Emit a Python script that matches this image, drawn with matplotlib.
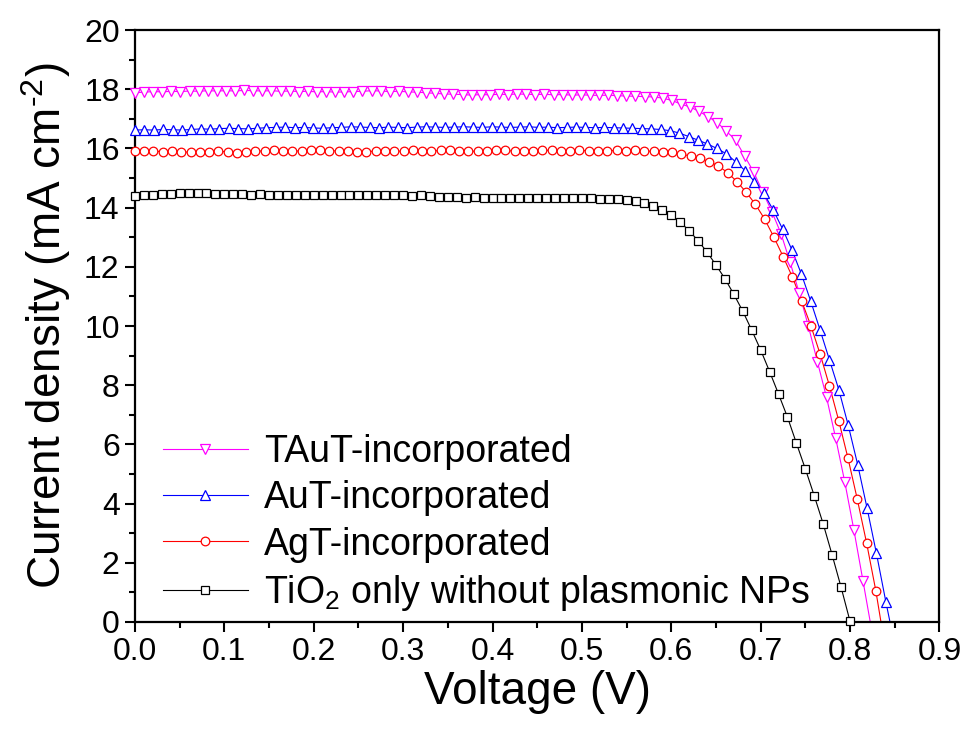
import numpy as np
import matplotlib
matplotlib.use("Agg")
import matplotlib.pyplot as plt
from matplotlib.lines import Line2D
from matplotlib.ticker import MultipleLocator, FormatStrFormatter

plt.rcParams["font.family"] = ["Liberation Sans", "DejaVu Sans"]
plt.rcParams["mathtext.fontset"] = "custom"
plt.rcParams["mathtext.rm"] = "Liberation Sans"
plt.rcParams["mathtext.it"] = "Liberation Sans:italic"
plt.rcParams["mathtext.default"] = "regular"

# voltage sweep steps (V) for each cell
step_taut = 0.01018
step_aut = 0.0105
step_agt = 0.01036
step_tio2 = 0.0100

# J-V data, current density in mA cm^-2
j_taut = [
    17.88, 17.90, 17.92, 17.91, 17.93, 17.92, 17.94, 17.93, 17.95, 17.94,
    17.95, 17.94, 17.96, 17.95, 17.94, 17.95, 17.93, 17.94, 17.92, 17.93,
    17.91, 17.92, 17.90, 17.91, 17.92, 17.93, 17.95, 17.94, 17.92, 17.93,
    17.91, 17.90, 17.88, 17.86, 17.84, 17.83, 17.82, 17.80, 17.82, 17.81,
    17.83, 17.82, 17.84, 17.83, 17.82, 17.83, 17.81, 17.82, 17.80, 17.81,
    17.80, 17.79, 17.80, 17.78, 17.77, 17.76, 17.75, 17.74, 17.70, 17.62,
    17.50, 17.40, 17.25, 17.07, 16.87, 16.58, 16.28, 15.74, 15.20, 14.52,
    13.86, 13.12, 12.15, 11.12, 10.00, 8.79, 7.59, 6.22, 4.74, 3.12,
    1.40, -0.34,
]
j_aut = [
    16.62, 16.63, 16.62, 16.64, 16.63, 16.62, 16.64, 16.66, 16.65, 16.67,
    16.68, 16.67, 16.66, 16.68, 16.70, 16.71, 16.72, 16.70, 16.71, 16.69,
    16.68, 16.70, 16.71, 16.73, 16.72, 16.71, 16.70, 16.72, 16.71, 16.70,
    16.72, 16.73, 16.72, 16.71, 16.72, 16.73, 16.72, 16.71, 16.73, 16.72,
    16.71, 16.72, 16.73, 16.71, 16.72, 16.70, 16.71, 16.72, 16.71, 16.70,
    16.71, 16.70, 16.69, 16.68, 16.67, 16.66, 16.64, 16.60, 16.52, 16.40,
    16.28, 16.15, 16.00, 15.82, 15.55, 15.25, 14.88, 14.48, 13.92, 13.28,
    12.57, 11.76, 10.84, 9.86, 8.85, 7.84, 6.64, 5.32, 3.85, 2.32,
    0.69, -0.86,
]
j_agt = [
    15.92, 15.90, 15.91, 15.89, 15.90, 15.88, 15.87, 15.89, 15.88, 15.90,
    15.89, 15.86, 15.88, 15.90, 15.92, 15.93, 15.91, 15.90, 15.92, 15.94,
    15.93, 15.91, 15.92, 15.90, 15.88, 15.89, 15.91, 15.92, 15.90, 15.91,
    15.93, 15.92, 15.91, 15.93, 15.94, 15.92, 15.91, 15.90, 15.92, 15.94,
    15.93, 15.91, 15.90, 15.92, 15.93, 15.94, 15.92, 15.91, 15.93, 15.92,
    15.91, 15.92, 15.93, 15.92, 15.93, 15.91, 15.90, 15.89, 15.87, 15.81,
    15.74, 15.66, 15.55, 15.41, 15.18, 14.88, 14.52, 14.11, 13.61, 13.00,
    12.34, 11.65, 10.84, 10.00, 9.04, 7.97, 6.80, 5.53, 4.15, 2.68,
    1.06, -0.84,
]
j_tio2 = [
    14.40, 14.42, 14.43, 14.45, 14.47, 14.49, 14.50, 14.50, 14.48, 14.47,
    14.46, 14.45, 14.46, 14.44, 14.45, 14.43, 14.44, 14.42, 14.43, 14.42,
    14.44, 14.43, 14.42, 14.43, 14.41, 14.42, 14.42, 14.43, 14.42, 14.41,
    14.42, 14.40, 14.41, 14.38, 14.37, 14.36, 14.35, 14.34, 14.35, 14.33,
    14.34, 14.33, 14.32, 14.34, 14.32, 14.33, 14.34, 14.33, 14.32, 14.31,
    14.32, 14.31, 14.30, 14.29, 14.28, 14.26, 14.22, 14.14, 14.05, 13.92,
    13.75, 13.51, 13.22, 12.88, 12.50, 12.06, 11.60, 11.07, 10.50, 9.86,
    9.19, 8.46, 7.70, 6.92, 6.04, 5.17, 4.26, 3.31, 2.26, 1.17,
    0.02,
]

labels = [
    "TAuT-incorporated",
    "AuT-incorporated",
    "AgT-incorporated",
    "TiO$_2$ only without plasmonic NPs",
]

series = [
    (step_taut, j_taut, "#FF00FF", "v", 6.8),
    (step_aut, j_aut, "#0000FF", "^", 6.8),
    (step_agt, j_agt, "#FF0000", "o", 6.2),
    (step_tio2, j_tio2, "#000000", "s", 5.2),
]

fig = plt.figure(figsize=(9.71, 7.34), dpi=100)
ax = fig.add_axes([0.139, 0.1526, 0.8285, 0.8065])

handles = []
for (step, j, color, marker, ms), lab in zip(series, labels):
    j = np.array(j)
    v = np.arange(len(j)) * step
    # the line is clipped at J = 0, the symbols sit on top of the axis
    ax.plot(v, j, "-", color=color, lw=0.8, zorder=2)
    keep = j >= 0
    ax.plot(v[keep], j[keep], ls="none", marker=marker, ms=ms,
            mfc="white", mec=color, mew=0.9, clip_on=False, zorder=3)
    handles.append(Line2D([], [], color=color, lw=0.8, marker=marker,
                          ms=ms, mfc="white", mec=color, mew=0.9))

ax.set_xlim(0, 0.9)
ax.set_ylim(0, 20)
ax.xaxis.set_major_locator(MultipleLocator(0.1))
ax.xaxis.set_minor_locator(MultipleLocator(0.05))
ax.xaxis.set_major_formatter(FormatStrFormatter("%.1f"))
ax.yaxis.set_major_locator(MultipleLocator(2))
ax.yaxis.set_minor_locator(MultipleLocator(1))

for sp in ax.spines.values():
    sp.set_linewidth(1.6)
ax.tick_params(which="major", direction="out", length=7, width=1.5,
               labelsize=23, pad=4, top=False, right=False)
ax.tick_params(which="minor", direction="out", length=4, width=1.5,
               top=False, right=False)

ax.set_xlabel("Voltage (V)", fontsize=33, labelpad=2)
ax.set_ylabel(r"Current density (mA cm$^{\text{-2}}$)", fontsize=33, labelpad=8)

ax.legend(handles, labels, loc="upper left", bbox_to_anchor=(0.035, 0.317),
          frameon=False, fontsize=27, handlelength=2.25, handletextpad=0.43,
          labelspacing=0.27, borderpad=0, borderaxespad=0)

fig.savefig("out.png", dpi=100)
